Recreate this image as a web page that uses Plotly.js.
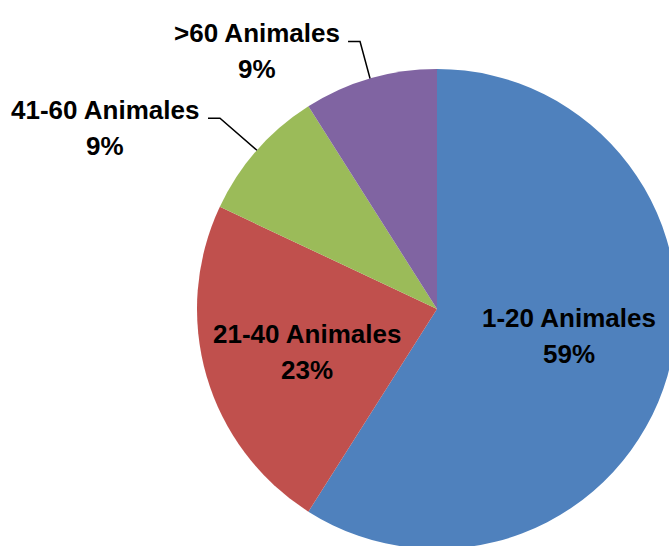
<!DOCTYPE html>
<html>
<head>
<meta charset="utf-8">
<script src="https://cdn.plot.ly/plotly-3.0.1.min.js"></script>
<style>
html,body{margin:0;padding:0;overflow:hidden;background:#fff;width:669px;height:546px;}
#chart{position:absolute;left:0;top:0;width:900px;height:700px;}
</style>
</head>
<body>
<div id="chart"></div>
<script>
const categories = ["1-20 Animales", "21-40 Animales", "41-60 Animales", ">60 Animales"];
const values = [59, 23, 9, 9];
const colors = ["#4F81BD", "#C0504D", "#9BBB59", "#8064A2"];

const W = 900, H = 700;
const cx = 437, cy = 309, R = 240;
const FONT = "'Liberation Sans', Arial, sans-serif";
const FSIZE = 26;
const LINEGAP = 36;

const total = values.reduce((a, b) => a + b, 0);
let cum = 0;
const mids = values.map(v => { const m = (cum + v / 2) / total * 2 * Math.PI; cum += v; return m; });
const px = (x) => x / W;
const py = (y) => 1 - y / H;

// label placement (relative to the slice geometry)
const labelCfg = [
  {inside: true, rf: 0.565, nx: 2, ny: -11},
  {inside: true, rf: 0.565, nx: 0, ny: 5},
  {inside: false, knee: [-37, -32], tail: -12, center: [-152, -22]},
  {inside: false, knee: [-10, -37], tail: -12, center: [-113, -28]}
];

const annotations = [];
const shapes = [];
function addText(x, y, lines) {
  lines.forEach((t, k) => {
    annotations.push({
      x: px(x), y: py(y + (k - (lines.length - 1) / 2) * LINEGAP),
      xref: "paper", yref: "paper", text: "<b>" + t + "</b>", showarrow: false,
      xanchor: "center", yanchor: "middle",
      font: {family: FONT, size: FSIZE, color: "#000"}
    });
  });
}
values.forEach((v, i) => {
  const a = mids[i];
  const c = labelCfg[i];
  const lines = [categories[i], Math.round(v / total * 100) + "%"];
  if (c.inside) {
    const rr = c.rf * R;
    addText(cx + rr * Math.sin(a) + c.nx, cy - rr * Math.cos(a) + c.ny, lines);
  } else {
    const ex = cx + R * Math.sin(a), ey = cy - R * Math.cos(a);
    const kx = ex + c.knee[0], ky = ey + c.knee[1];
    const lx = kx + c.tail;
    shapes.push({
      type: "path", xref: "paper", yref: "paper",
      path: `M ${px(ex)} ${py(ey)} L ${px(kx)} ${py(ky)} L ${px(lx)} ${py(ky)}`,
      line: {color: "#000", width: 1.5}
    });
    addText(ex + c.center[0], ey + c.center[1], lines);
  }
});

const data = [{
  type: "pie",
  labels: categories,
  values: values,
  marker: {colors: colors, line: {width: 0}},
  sort: false,
  direction: "clockwise",
  rotation: 0,
  textinfo: "none",
  hoverinfo: "none",
  showlegend: false,
  domain: {x: [px(cx - R), px(cx + R)], y: [py(cy + R), py(cy - R)]}
}];

const layout = {
  width: W, height: H,
  margin: {l: 0, r: 0, t: 0, b: 0},
  paper_bgcolor: "#fff",
  showlegend: false,
  annotations: annotations,
  shapes: shapes
};

Plotly.newPlot("chart", data, layout, {displayModeBar: false, staticPlot: true});
</script>
</body>
</html>
